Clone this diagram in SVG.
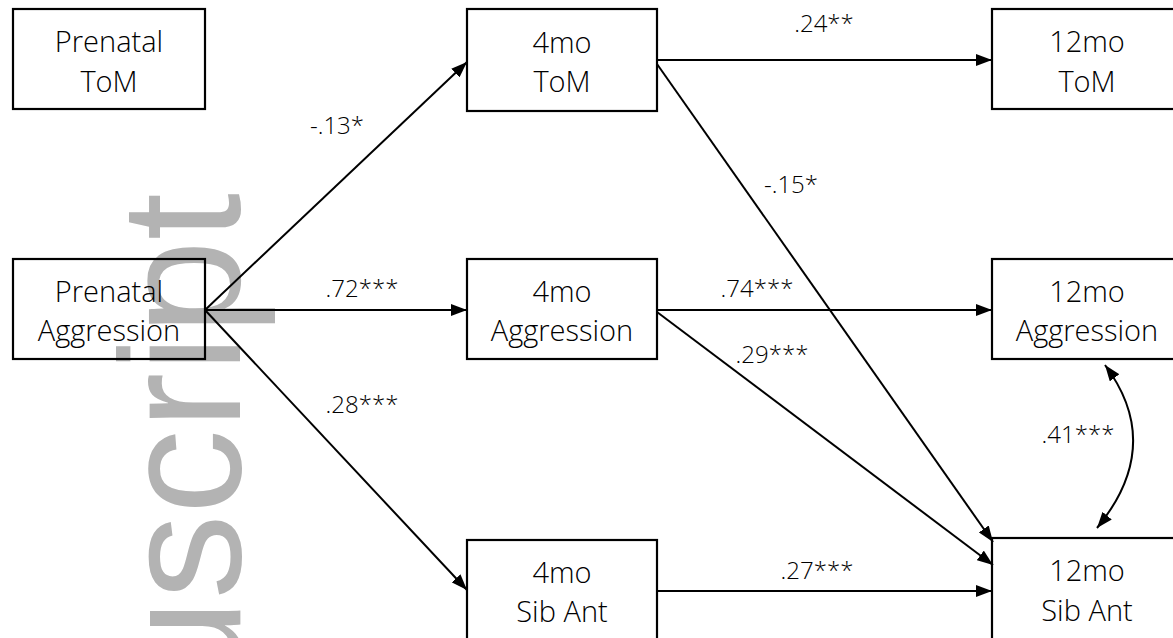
<svg xmlns="http://www.w3.org/2000/svg" width="1173" height="638" viewBox="0 0 1173 638">
<style>
.box{fill:none;stroke:#000;stroke-width:2.2}
.nt{font-family:"Open Sans","Noto Sans",sans-serif;font-size:29px;font-weight:300;fill:#000;text-anchor:middle}
.lb{font-family:"Open Sans","Noto Sans",sans-serif;font-size:24px;font-weight:300;fill:#000;text-anchor:middle}
.ln{fill:none;stroke:#000;stroke-width:2}
.wm{font-family:"Liberation Sans",Arial,sans-serif;font-size:170px;fill:#b3b3b3}
</style>
<defs>
<marker id="ah" markerUnits="userSpaceOnUse" markerWidth="16" markerHeight="12" refX="16" refY="6" orient="auto-start-reverse" viewBox="0 0 16 12">
<path d="M0,0 L16,6 L0,12 z" fill="#000"/>
</marker>
</defs>
<rect width="1173" height="638" fill="#fff"/>
<text class="wm" transform="translate(240,193) rotate(-90)" text-anchor="end">uscript</text>
<g id="connectors">
<line class="ln" x1="205" y1="310" x2="467" y2="62" marker-end="url(#ah)"/>
<line class="ln" x1="205" y1="310" x2="467" y2="310" marker-end="url(#ah)"/>
<line class="ln" x1="205" y1="310" x2="467" y2="590" marker-end="url(#ah)"/>
<line class="ln" x1="657" y1="60" x2="992" y2="60" marker-end="url(#ah)"/>
<line class="ln" x1="657" y1="64" x2="993" y2="542" marker-end="url(#ah)"/>
<line class="ln" x1="657" y1="310" x2="992" y2="310" marker-end="url(#ah)"/>
<line class="ln" x1="657" y1="312" x2="993" y2="565" marker-end="url(#ah)"/>
<line class="ln" x1="657" y1="591" x2="992" y2="591" marker-end="url(#ah)"/>
<path class="ln" d="M1105,365 Q1165,445 1097,528" marker-start="url(#ah)" marker-end="url(#ah)"/>
<text class="lb" x="337" y="134">-.13*</text>
<text class="lb" x="362" y="297">.72***</text>
<text class="lb" x="362" y="413">.28***</text>
<text class="lb" x="824" y="32">.24**</text>
<text class="lb" x="791" y="193">-.15*</text>
<text class="lb" x="757" y="297">.74***</text>
<text class="lb" x="772" y="363">.29***</text>
<text class="lb" x="817" y="579">.27***</text>
<text class="lb" x="1078" y="443">.41***</text>
</g>
<g id="prenatal-tom">
<rect class="box" x="13" y="9" width="192" height="100"/>
<text class="nt" x="109" y="52">Prenatal</text>
<text class="nt" x="109" y="92">ToM</text>
</g>
<g id="prenatal-aggression">
<rect class="box" x="13" y="259" width="192" height="100"/>
<text class="nt" x="109" y="302">Prenatal</text>
<text class="nt" x="109" y="341">Aggression</text>
</g>
<g id="tom-4mo">
<rect class="box" x="467" y="9" width="190" height="102"/>
<text class="nt" x="562" y="53">4mo</text>
<text class="nt" x="562" y="92">ToM</text>
</g>
<g id="aggression-4mo">
<rect class="box" x="467" y="259" width="190" height="100"/>
<text class="nt" x="562" y="302">4mo</text>
<text class="nt" x="562" y="341">Aggression</text>
</g>
<g id="sibant-4mo">
<rect class="box" x="467" y="540" width="190" height="102"/>
<text class="nt" x="562" y="583">4mo</text>
<text class="nt" x="562" y="622">Sib Ant</text>
</g>
<g id="tom-12mo">
<rect class="box" x="992" y="9" width="190" height="100"/>
<text class="nt" x="1087" y="52">12mo</text>
<text class="nt" x="1087" y="92">ToM</text>
</g>
<g id="aggression-12mo">
<rect class="box" x="992" y="259" width="190" height="100"/>
<text class="nt" x="1087" y="302">12mo</text>
<text class="nt" x="1087" y="341">Aggression</text>
</g>
<g id="sibant-12mo">
<rect class="box" x="992" y="538" width="190" height="104"/>
<text class="nt" x="1087" y="581">12mo</text>
<text class="nt" x="1087" y="621">Sib Ant</text>
</g>
</svg>
